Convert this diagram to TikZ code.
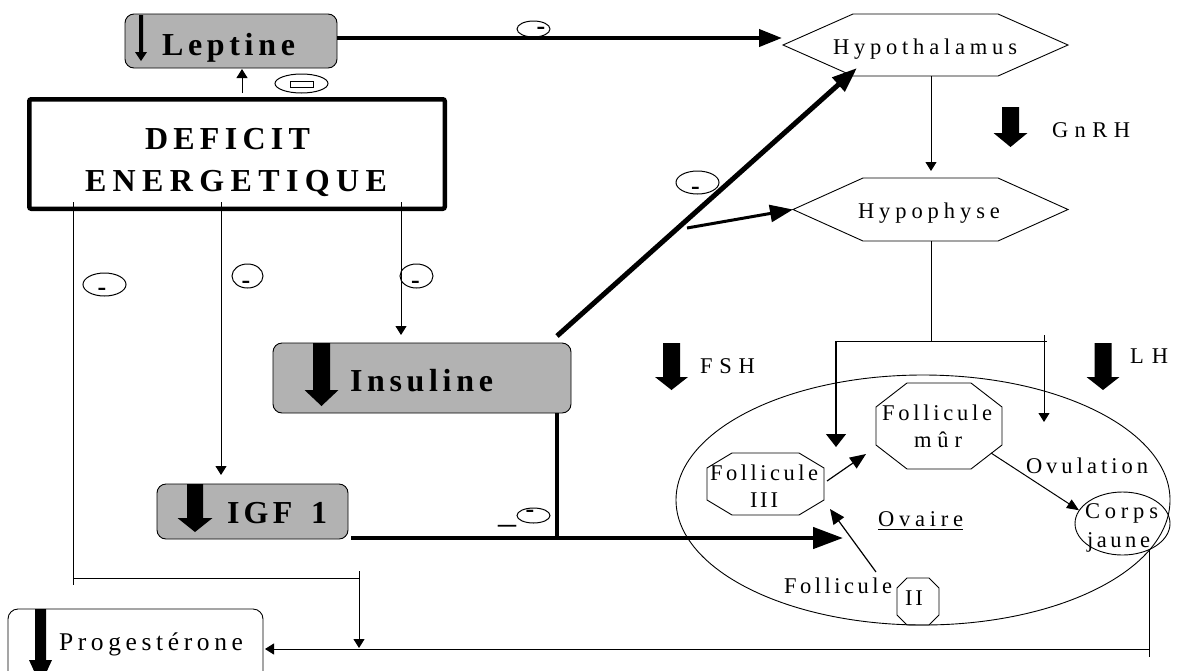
\documentclass[tikz,border=0pt]{standalone}
\usepackage{fontspec}
\setmainfont{Liberation Serif}
\newfontfamily\condf{Liberation Serif}
\usetikzlibrary{arrows.meta,calc,shapes.geometric}
\definecolor{boxgray}{gray}{0.7}
\makeatletter
\def\spreadA#1#2{#1\ifx\relax#2\expandafter\@gobble\else\hfil\expandafter\spreadA\fi#2}
\makeatother
\newcommand\sps[2]{\makebox[#1][s]{\spreadA#2\relax}}
\newcommand\gapI{\hspace{10pt}}
\newcommand\blockarrow[6]{\fill (#1-#4/2,#2) -- (#1+#4/2,#2) -- (#1+#4/2,#3-#6) -- (#1+#5/2,#3-#6) -- (#1,#3) -- (#1-#5/2,#3-#6) -- (#1-#4/2,#3-#6) -- cycle;}
\newcommand\octa[3]{\draw[line width=0.9pt] ($(#1.north west)+(#2,0)$) -- ($(#1.north east)+(-#2,0)$) -- ($(#1.north east)+(0,#3)$) -- ($(#1.south east)+(0,-#3)$) -- ($(#1.south east)+(-#2,0)$) -- ($(#1.south west)+(#2,0)$) -- ($(#1.south west)+(0,-#3)$) -- ($(#1.north west)+(0,#3)$) -- cycle;}
\newcommand\hexa[2]{\draw[line width=0.9pt] (#1.west) -- ($(#1.north west)+(#2,0)$) -- ($(#1.north east)+(-#2,0)$) -- (#1.east) -- ($(#1.south east)+(-#2,0)$) -- ($(#1.south west)+(#2,0)$) -- cycle;}
\tikzset{
  reg/.style={font=\condf\fontsize{22.5pt}{24pt}\selectfont, inner sep=0pt, anchor=base},
  bld/.style={font=\bfseries\fontsize{32pt}{34pt}\selectfont, inner sep=0pt, anchor=base},
  minus/.style={font=\bfseries\fontsize{26pt}{26pt}\selectfont, inner sep=0pt, anchor=base},
  shp/.style={inner sep=0pt, outer sep=0pt},
  graybox/.style={shp, draw, line width=0.9pt, rounded corners=9pt, fill=boxgray},
  thinln/.style={line width=1pt},
  thinarr/.style={line width=1pt, -{Triangle[length=9pt,width=11pt]}},
  bigarr/.style={-{Triangle[length=23pt,width=17pt]}},
  oval/.style={line width=1pt},
}
\begin{document}
\begin{tikzpicture}[x=1pt,y=-1pt]
\useasboundingbox (0,0) rectangle (1177,670);
\clip (0,0) rectangle (1177,670);
\fill[white] (0,0) rectangle (1177,670);

% ---------- boxes ----------
\node[graybox, minimum width=212pt, minimum height=54pt] (lep) at (231,41) {};
\node[shp, draw, line width=4.5pt, rounded corners=2pt, minimum width=415.5pt, minimum height=109.5pt] (def) at (237,154) {};
\node[graybox, minimum width=298pt, minimum height=70pt] (ins) at (422,378) {};
\node[graybox, minimum width=191pt, minimum height=55pt] (igf) at (252.5,511.5) {};
\node[shp, draw, line width=0.9pt, rounded corners=10pt, fill=white, minimum width=255pt, minimum height=72pt] (prog) at (135.5,645) {};

\blockarrow{141}{15}{61}{4}{12}{9}
\blockarrow{321.5}{343}{406}{17}{34}{16}
\blockarrow{195}{484}{532}{16}{35}{14}
\blockarrow{40.5}{609}{685}{11}{23}{25}

\node[bld] (tlep) at (228.5,55) {\sps{133pt}{Leptine}};
\node[bld] (tdef1) at (227.5,149) {\sps{165pt}{DEFICIT}};
\node[bld] (tdef2) at (236,191) {\sps{302pt}{ENERGETIQUE}};
\node[bld] (tins) at (421.5,391) {\sps{143pt}{Insuline}};
\node[bld] (tigf) at (277,523) {\sps{100pt}{IGF\gapI 1}};
\node[reg, font=\condf\fontsize{25.5pt}{28pt}\selectfont] (tprog) at (151,650) {\sps{184pt}{Progestérone}};

% ---------- hexagons ----------
\node[shp, minimum width=285pt, minimum height=62pt] (hyt) at (925.5,45) {};
\hexa{hyt}{70}
\node[shp, minimum width=275pt, minimum height=63pt] (hyp) at (930.5,209.5) {};
\hexa{hyp}{70}
\node[reg] (thyt) at (925,54) {\sps{184pt}{Hypothalamus}};
\node[reg] (thyp) at (929,218) {\sps{142pt}{Hypophyse}};

% hormone arrows
\blockarrow{1010.5}{107}{147}{17}{34}{14}
\blockarrow{671.5}{343}{390}{17}{33}{13}
\blockarrow{1103}{343}{390}{17}{33}{13}
\node[reg] (tgnrh) at (1091,137) {\sps{78pt}{GnRH}};
\node[reg] (tfsh) at (727.5,373) {\sps{55pt}{FSH}};
\node[reg] (tlh) at (1149,363) {\sps{38pt}{LH}};

% ---------- ovary ----------
\node[shp, draw, ellipse, line width=0.9pt, minimum width=494pt, minimum height=250pt] (ov) at (923,500) {};
\node[shp, draw, ellipse, line width=0.9pt, minimum width=95pt, minimum height=63pt] (cj) at (1122.5,523.5) {};
\node[shp, minimum width=126pt, minimum height=86pt] (fm) at (939,426) {};
\octa{fm}{31}{24}
\node[shp, minimum width=117pt, minimum height=62pt] (f3) at (765.5,484) {};
\octa{f3}{25}{15}
\node[shp, minimum width=42pt, minimum height=47pt] (f2) at (918,601.5) {};
\octa{f2}{10}{10}

\node[reg] (tfm1) at (937,420) {\sps{110pt}{Follicule}};
\node[reg] (tfm2) at (938,447) {\sps{48pt}{mûr}};
\node[reg] (tf31) at (764,480) {\sps{108pt}{Follicule}};
\node[reg] (tf32) at (764,507) {\sps{28pt}{III}};
\node[reg] (tovu) at (1087,473) {\sps{122pt}{Ovulation}};
\node[reg] (tcj1) at (1121.5,518) {\sps{73pt}{Corps}};
\node[reg] (tcj2) at (1118.5,547) {\sps{63pt}{jaune}};
\node[reg] (tova) at (920.5,526) {\sps{85pt}{Ovaire}};
\draw[line width=1pt] (tova.base west) ++(0,3.5) -- ++(85,0);
\node[reg] (tf21) at (838,593) {\sps{108pt}{Follicule}};
\node[reg] (tf22) at (914,605) {\sps{18pt}{II}};

% ---------- connectors ----------
% Leptine -> Hypothalamus
\coordinate (hytin) at (782,38);
\draw[line width=4pt, bigarr] ($(lep.east)+(0,-3)$) -- (hytin);
% Deficit -> Leptine
\coordinate (lepup) at (242,93);
\draw[thinarr] (lepup) -- ($(lepup |- lep.south)+(0,1)$);
% Deficit downward lines
\coordinate (d1) at (73,202);
\coordinate (d2) at (221,202);
\coordinate (d3) at (401,202);
\draw[thinarr] (d3) -- ($(d3 |- ins.north)+(0,-8)$);
\draw[thinarr] (d2) -- ($(d2 |- igf.north)+(0,-9)$);
\coordinate (j1) at (73,578);
\coordinate (j2) at (359,578);
\coordinate (j3) at (359,571);
\coordinate (pb) at (1149,649);
\coordinate (cjb) at (1149,550);
\draw[thinln] (d1) -- ($(j1)+(0,7)$);
\draw[thinln] (j1) -- (j2);
\draw[thinarr] (j3) -- ($(j3 |- pb)+(0,-1)$);
\draw[thinln] (cjb) -- ($(pb)+(0,8)$);
\draw[thinarr] (pb) -- ($(pb -| prog.east)+(2,0)$);

% Insuline / IGF -> ovary
\coordinate (ovin) at (843,538);
\coordinate (insv) at (557,538);
\draw[line width=4.5pt, -{Triangle[length=30pt,width=21pt]}] ($(igf.south east)+(3,-1)$) -- (ovin);
\draw[line width=4.5pt] (insv |- ins.south) -- ($(insv)+(0,2)$);

% Insuline -> Hypothalamus, Hypophyse
\coordinate (dg0) at (557,336);
\coordinate (dg1) at (857,68);
\coordinate (br) at (687,228);
\draw[line width=5pt, -{Triangle[length=25pt,width=18pt]}] (dg0) -- (dg1);
\draw[line width=3pt, bigarr] (br) -- (hyp.west);

% Hypothalamus -> Hypophyse
\coordinate (hv) at (931,76);
\draw[thinarr] (hv) -- ($(hv |- hyp.north)+(0,-7)$);
% Hypophyse -> FSH / LH branches
\coordinate (hj) at (931,341);
\coordinate (bl) at (836,341);
\coordinate (brr) at (1044,341);
\draw[thinln] (hv |- hyp.south) -- (hj);
\draw[thinln] (bl) -- ($(brr)+(3,0)$);
\draw[line width=1.2pt, -{Triangle[length=13pt,width=20pt]}] (bl) -- ($(bl)+(0,106)$);
\draw[thinarr] ($(brr)+(0,-6)$) -- ($(brr)+(0,81)$);

% inside ovary
\draw[line width=1.2pt, -{Triangle[length=16pt,width=13pt]}] ($(f3.east)+(3,-3)$) -- ($(fm.south west)+(-10,-15)$);
\draw[line width=1pt, -{Triangle[length=12pt,width=10pt]}] ($(fm.south east)+(-11,-16)$) -- ($(cj.north west)+(-10,9)$);
\draw[line width=1.2pt, -{Triangle[length=15pt,width=13pt]}] ($(f2.north west)+(-21,-6)$) -- ($(f3.south east)+(6,-6)$);

% ---------- inhibition marks ----------
\draw[oval] (533.5,29) ellipse [x radius=16.5pt, y radius=8pt];
\node[minus] (m1) at (541,34) {-};
\draw[oval] (301.5,83.5) ellipse [x radius=26.5pt, y radius=9.5pt];
\draw[line width=1pt] (290,81.5) rectangle (313,87.5);
\draw[oval] (104.5,284.5) ellipse [x radius=21.5pt, y radius=11.5pt];
\node[minus] (m2) at (102,295) {-};
\draw[oval] (247.5,276) ellipse [x radius=15.5pt, y radius=12pt];
\node[minus] (m3) at (246,288) {-};
\draw[oval] (416.5,276) ellipse [x radius=16.5pt, y radius=12pt];
\node[minus] (m4) at (415.5,288) {-};
\draw[oval] (697.5,182.5) ellipse [x radius=21.5pt, y radius=11.5pt];
\node[minus] (m5) at (695.5,194) {-};
\draw[oval] (533.5,515.5) ellipse [x radius=16.5pt, y radius=7.5pt];
\node[minus] (m6) at (530,517) {-};
\node[font=\fontsize{36pt}{36pt}\selectfont, anchor=base, inner sep=0pt] (us) at (507,522) {\_};
\end{tikzpicture}
\end{document}
